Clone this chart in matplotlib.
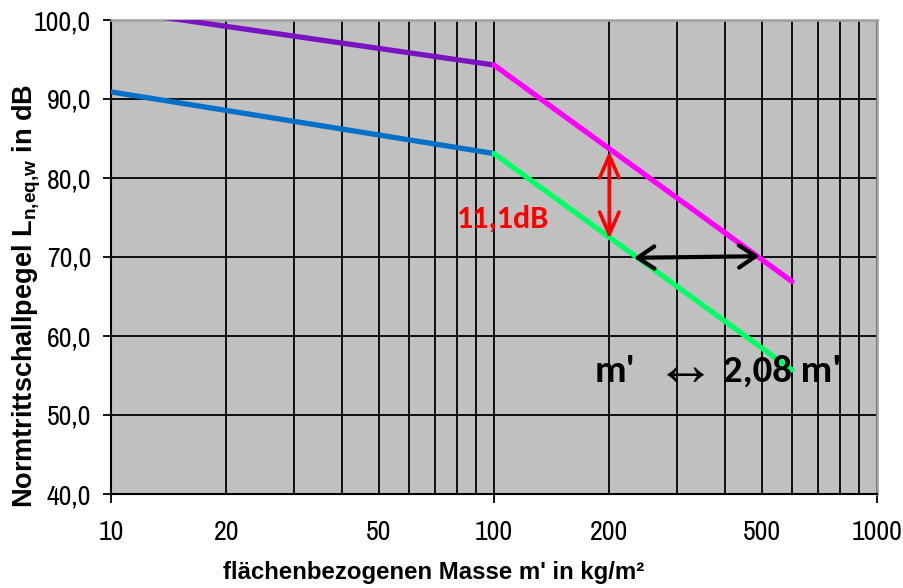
import matplotlib
matplotlib.use("Agg")
import matplotlib.pyplot as plt
from matplotlib.patches import FancyArrowPatch
from matplotlib.ticker import FixedLocator, FixedFormatter

plt.rcParams["mathtext.fontset"] = "custom"
plt.rcParams["mathtext.rm"] = "Liberation Sans"
plt.rcParams["mathtext.bf"] = "Liberation Sans:bold"

# Flächenbezogene Masse (kg/m²) und Normtrittschallpegel (dB)
m_low = [10, 100]
m_high = [100, 600]
upper_low = [101.3, 94.3]
upper_high = [94.3, 66.9]
lower_low = [90.9, 83.1]
lower_high = [83.1, 55.7]

# Pfeile: Pegeldifferenz bei 200 kg/m² und Massenverhältnis bei 70 dB
delta_m = 200
delta_levels = [83.4, 72.3]
ratio_level = [69.9, 70.1]
ratio_masses = [232, 493]

major_x = [10, 100, 1000]
minor_x = [20, 30, 40, 50, 60, 70, 80, 90, 200, 300, 400, 500, 600, 700, 800, 900]
minor_labels = ["20", "", "", "50", "", "", "", "", "200", "", "", "500", "", "", "", ""]
y_ticks = [40, 50, 60, 70, 80, 90, 100]

narrow = ["Archivo Narrow", "Liberation Sans", "DejaVu Sans"]
bold_sans = ["Liberation Sans", "DejaVu Sans"]
calibri = ["Carlito", "DejaVu Sans"]

fig = plt.figure(figsize=(9.04, 5.88), dpi=100)
ax = fig.add_axes([111 / 904, 1 - 494 / 588, 766 / 904, 474 / 588])
ax.set_facecolor("#C0C0C0")
ax.set_xscale("log")
ax.set_xlim(10, 1000)
ax.set_ylim(40, 100)

ax.plot(m_low, upper_low, color="#7A14C2", lw=3.8, solid_capstyle="round", zorder=3)
ax.plot(m_low, lower_low, color="#0070C8", lw=3.8, solid_capstyle="round", zorder=3)
ax.plot(m_high, upper_high, color="#FF00FF", lw=3.8, solid_capstyle="round", zorder=4)
ax.plot(m_high, lower_high, color="#00FF66", lw=3.8, solid_capstyle="round", zorder=4)

red_arrow = FancyArrowPatch((delta_m, delta_levels[0]), (delta_m, delta_levels[1]),
                            arrowstyle="<->,head_length=16,head_width=7",
                            mutation_scale=1, color="#FF0000", lw=2.6,
                            shrinkA=0, shrinkB=0, zorder=5)
ax.add_patch(red_arrow)
black_arrow = FancyArrowPatch((ratio_masses[0], ratio_level[0]), (ratio_masses[1], ratio_level[1]),
                              arrowstyle="<->,head_length=12,head_width=8",
                              mutation_scale=1, color="black", lw=3.0,
                              shrinkA=0, shrinkB=0, zorder=5)
ax.add_patch(black_arrow)

# Ticks und Gitter
ax.xaxis.set_major_locator(FixedLocator(major_x))
ax.xaxis.set_major_formatter(FixedFormatter([str(v) for v in major_x]))
ax.xaxis.set_minor_locator(FixedLocator(minor_x))
ax.xaxis.set_minor_formatter(FixedFormatter(minor_labels))
ax.set_yticks(y_ticks)
ax.set_yticklabels([f"{v:.1f}".replace(".", ",") for v in y_ticks])

ax.grid(True, which="both", axis="x", color="black", lw=1.3)
ax.grid(True, which="major", axis="y", color="black", lw=1.3)
ax.set_axisbelow(True)

ax.tick_params(axis="x", which="major", length=6.5, width=1.3, direction="out", pad=12.5,
               labelsize=20, color="black")
ax.tick_params(axis="x", which="minor", length=0, pad=19, labelsize=20)
ax.tick_params(axis="y", which="major", length=5.8, width=1.3, direction="out", pad=8.5,
               labelsize=20)
for lab in ax.get_xticklabels(which="both") + ax.get_yticklabels():
    lab.set_family(narrow)

for side in ("top", "right"):
    ax.spines[side].set_color("#A0A0A0")
    ax.spines[side].set_linewidth(1.8)
for side in ("left", "bottom"):
    ax.spines[side].set_color("black")
    ax.spines[side].set_linewidth(1.5)

ax.set_xlabel("flächenbezogenen Masse m' in kg/m²", family=bold_sans, fontweight="bold",
              fontsize=17.3)
ax.xaxis.set_label_coords((434 - 111) / 766, -(572 - 494) / 474)
ax.xaxis.label.set_va("center")
ax.set_ylabel(r"Normtrittschallpegel L$_{\mathbf{n{,}eq{,}w}}$ in dB", family=bold_sans,
              fontweight="bold", fontsize=19.5)
ax.yaxis.set_label_coords(-(111 - 27) / 766, (494 - 296) / 474)
ax.yaxis.label.set_va("center")

# Beschriftungen im Diagramm
ax.text(0.512, 0.563, "11,1dB", transform=ax.transAxes, ha="center", va="baseline",
        color="#FF0000", fontsize=23, fontweight="bold", family=calibri, zorder=6)
ax.text(0.632, 0.236, "m'", transform=ax.transAxes, ha="left", va="baseline",
        color="black", fontsize=28, fontweight="bold", family=calibri, zorder=6)
ax.text(0.749, 0.262, "↔", transform=ax.transAxes, ha="center", va="center",
        color="black", fontsize=44, family=["Liberation Sans", "DejaVu Sans"], zorder=6)
ax.text(0.799, 0.236, "2,08 m'", transform=ax.transAxes, ha="left", va="baseline",
        color="black", fontsize=28, fontweight="bold", family=calibri, zorder=6)

fig.savefig("out.png", dpi=100)
